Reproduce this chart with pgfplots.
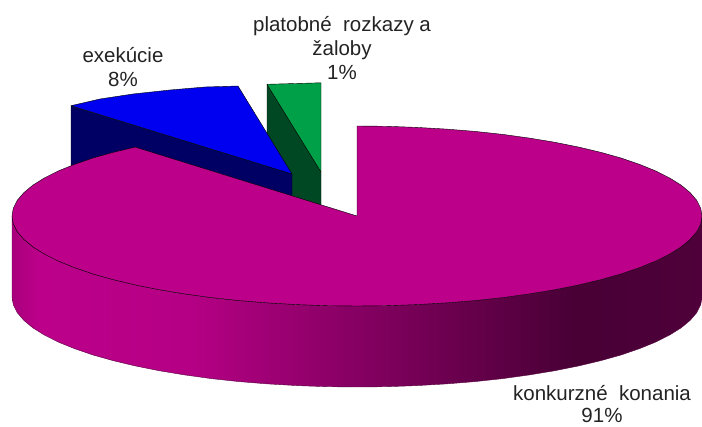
\documentclass[border=0pt]{standalone}
\usepackage{pgfplots}
\pgfplotsset{compat=1.18}
\usepackage{fontspec}
\setmainfont{Liberation Sans}

\definecolor{mag}{RGB}{188,0,138}
\definecolor{blu}{RGB}{0,0,240}
\definecolor{nav}{RGB}{0,0,100}
\definecolor{grn}{RGB}{0,160,72}
\definecolor{dgr}{RGB}{0,72,36}
\definecolor{txt}{RGB}{35,35,35}

% side of the big slice, path box sits on 25bp..75bp
\pgfdeclarehorizontalshading{sidegrad}{100bp}{
  color(0bp)=(mag!90!black);
  color(25bp)=(mag!90!black);
  color(27bp)=(mag);
  color(38bp)=(mag!96!black);
  color(66bp)=(mag!38!black);
  color(75bp)=(mag!42!black);
  color(100bp)=(mag!42!black)}

\tikzset{lab/.style={anchor=base, inner sep=0pt, text=txt, font=\fontsize{20.5}{24}\selectfont}}

\begin{document}
\begin{tikzpicture}
\useasboundingbox (0,0) rectangle (702pt,427pt);
\begin{axis}[
  at={(0,0)}, anchor=south west,
  scale only axis, width=702pt, height=427pt,
  xmin=0, xmax=702, ymin=0, ymax=427,
  y dir=reverse,
  hide axis, clip=false,
  every axis plot/.append style={draw=black, line width=0.4pt, line join=round}
]
% green slice
\addplot[fill=dgr] coordinates {(267,84) (321,172) (321,210) (267,190)} --cycle;
\addplot[fill=grn] coordinates {(267,84.3) (321,82.8) (321,172)} --cycle;
% blue slice
\addplot[fill=nav] coordinates {(71,106) (292,174) (292,210) (71,190)} --cycle;
\addplot[fill=blu] coordinates {(71,105.7) (100,99) (133,94) (170,90) (205,87) (238,86) (292,174)} --cycle;
% side of the big slice
\addplot[shading=sidegrad, draw=mag!45!black] coordinates {
  (12,216) (13.3,223.8) (17.2,231.6) (23.8,239.3) (32.8,246.8) (44.3,254) (58.2,261)
  (74.4,267.6) (92.7,273.9) (113,279.6) (135.2,284.9) (159.1,289.7) (184.5,293.9)
  (211.2,297.6) (239,300.6) (267.7,302.9) (297.1,304.6) (326.9,305.7) (357,306)
  (387.1,305.7) (416.9,304.6) (446.3,302.9) (475,300.6) (502.8,297.6) (529.5,293.9)
  (554.9,289.7) (578.8,284.9) (601,279.6) (621.3,273.9) (639.6,267.6) (655.8,261)
  (669.7,254) (681.2,246.8) (690.2,239.3) (696.8,231.6) (700.7,223.8) (702,216)
  (702,297) (700.7,304.8) (696.8,312.6) (690.2,320.3) (681.2,327.8) (669.7,335) (655.8,342)
  (639.6,348.6) (621.3,354.9) (601,360.6) (578.8,365.9) (554.9,370.7) (529.5,374.9)
  (502.8,378.6) (475,381.6) (446.3,383.9) (416.9,385.6) (387.1,386.7) (357,387)
  (326.9,386.7) (297.1,385.6) (267.7,383.9) (239,381.6) (211.2,378.6) (184.5,374.9)
  (159.1,370.7) (135.2,365.9) (113,360.6) (92.7,354.9) (74.4,348.6) (58.2,342)
  (44.3,335) (32.8,327.8) (23.8,320.3) (17.2,312.6) (13.3,304.8) (12,297)
} --cycle;
% top of the big slice
\addplot[fill=mag] coordinates {
  (357,126) (387.1,126.3) (416.9,127.4) (446.3,129.1) (475,131.4) (502.8,134.4) (529.5,138.1)
  (554.9,142.3) (578.8,147.1) (601,152.4) (621.3,158.1) (639.6,164.4) (655.8,171)
  (669.7,178) (681.2,185.2) (690.2,192.7) (696.8,200.4) (700.7,208.2) (702,216)
  (700.7,223.8) (696.8,231.6) (690.2,239.3) (681.2,246.8) (669.7,254) (655.8,261)
  (639.6,267.6) (621.3,273.9) (601,279.6) (578.8,284.9) (554.9,289.7) (529.5,293.9)
  (502.8,297.6) (475,300.6) (446.3,302.9) (416.9,304.6) (387.1,305.7) (357,306)
  (326.9,305.7) (297.1,304.6) (267.7,302.9) (239,300.6) (211.2,297.6) (184.5,293.9)
  (159.1,289.7) (135.2,284.9) (113,279.6) (92.7,273.9) (74.4,267.6) (58.2,261)
  (44.3,254) (32.8,246.8) (23.8,239.3) (17.2,231.6) (13.3,223.8) (12,216)
  (13.3,208.2) (17.2,200.4) (23.8,192.7) (32.8,185.2) (44.3,178) (58.2,171)
  (74.4,164.4) (92.7,158.1) (113,152.4) (135.2,147.1) (357,216)
} --cycle;
% labels
\node[lab] at (axis cs:123,63) {exekúcie};
\node[lab] at (axis cs:123,87) {8\%};
\node[lab] at (axis cs:342,32) {platobné~~rozkazy a};
\node[lab] at (axis cs:342,56) {žaloby};
\node[lab] at (axis cs:342,80) {1\%};
\node[lab] at (axis cs:602,401) {konkurzné~~konania};
\node[lab] at (axis cs:602,422.5) {91\%};
\end{axis}
\end{tikzpicture}
\end{document}
